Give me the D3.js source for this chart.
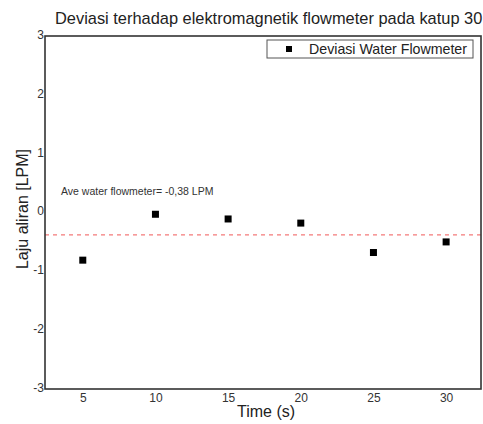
<!DOCTYPE html>
<html>
<head>
<meta charset="utf-8">
<script src="https://cdn.jsdelivr.net/npm/d3@7"></script>
<style>
  body { margin: 0; background: #fff; }
  text { font-family: "Liberation Sans", Arial, sans-serif; }
</style>
</head>
<body>
<div id="chart"></div>
<script>
// data
var times = [5, 10, 15, 20, 25, 30];
var deviasi = [-0.81, -0.03, -0.11, -0.18, -0.68, -0.50];
var avgValue = -0.38;
var xTicks = [5, 10, 15, 20, 25, 30];
var yTicks = [-3, -2, -1, 0, 1, 2, 3];

var w = 483, h = 424;
var margin = {top: 36, right: 2, bottom: 35, left: 45};
var width = w - margin.left - margin.right;
var height = h - margin.top - margin.bottom;

var svg = d3.select("#chart").append("svg")
    .attr("width", w)
    .attr("height", h);

var g = svg.append("g")
    .attr("transform", "translate(" + margin.left + "," + margin.top + ")");

var x = d3.scaleLinear().domain([2.4, 32.4]).range([0, width]);
var y = d3.scaleLinear().domain([-3, 3]).range([height, 0]);

// axes, labels only (no tick marks), plain hyphen for minus
var xAxis = d3.axisBottom(x).tickValues(xTicks).tickSize(0).tickPadding(4);
var yAxis = d3.axisLeft(y).tickValues(yTicks).tickSize(0).tickPadding(1)
    .tickFormat(function(d){ return String(d); });

var gx = g.append("g")
    .attr("transform", "translate(0," + height + ")")
    .call(xAxis);
var gy = g.append("g").call(yAxis);

[gx, gy].forEach(function(a){
    a.select(".domain").remove();
    a.selectAll("text")
        .style("font-size", "12px")
        .style("fill", "#333");
});
gy.selectAll("text").attr("dy", "0.2em");

// average dashed line
g.append("line")
    .attr("x1", 0).attr("x2", width)
    .attr("y1", y(avgValue)).attr("y2", y(avgValue))
    .style("stroke", "#f47a7a")
    .style("stroke-width", 1.3)
    .style("stroke-dasharray", "4,4");

g.append("text")
    .attr("x", x(3.5))
    .attr("y", y(0.29))
    .style("font-size", "10.5px")
    .style("fill", "#333")
    .text("Ave water flowmeter= -0,38 LPM");

// points
g.selectAll("rect.pt")
    .data(times)
    .enter().append("rect")
    .attr("class", "pt")
    .attr("x", function(d){ return x(d) - 3.5; })
    .attr("y", function(d, i){ return y(deviasi[i]) - 3.5; })
    .attr("width", 7)
    .attr("height", 7)
    .style("fill", "#000");

// frame
g.append("rect")
    .attr("x", 0).attr("y", 0)
    .attr("width", width).attr("height", height)
    .style("fill", "none")
    .style("stroke", "#333")
    .style("stroke-width", 1.6);

// legend
var lg = svg.append("g");
lg.append("rect")
    .attr("x", 267).attr("y", 40)
    .attr("width", 206).attr("height", 18)
    .style("fill", "#fff")
    .style("stroke", "#555")
    .style("stroke-width", 1);
lg.append("rect")
    .attr("x", 286).attr("y", 46)
    .attr("width", 6).attr("height", 6)
    .style("fill", "#000");
lg.append("text")
    .attr("x", 309).attr("y", 54)
    .style("font-size", "14.2px")
    .style("fill", "#222")
    .text("Deviasi Water Flowmeter");

// title
svg.append("text")
    .attr("x", 55).attr("y", 24)
    .style("font-size", "16.4px")
    .style("fill", "#222")
    .text("Deviasi terhadap elektromagnetik flowmeter pada katup 30");

// axis titles
svg.append("text")
    .attr("x", 266)
    .attr("y", 417)
    .attr("text-anchor", "middle")
    .style("font-size", "16px")
    .style("fill", "#222")
    .text("Time (s)");

svg.append("text")
    .attr("transform", "translate(28," + 209 + ") rotate(-90)")
    .attr("text-anchor", "middle")
    .style("font-size", "16px")
    .style("fill", "#222")
    .text("Laju aliran [LPM]");
</script>
</body>
</html>
